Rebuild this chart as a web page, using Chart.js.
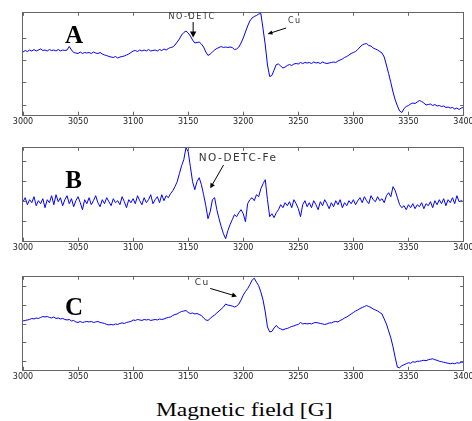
<!DOCTYPE html>
<html><head><meta charset="utf-8">
<script src="https://cdn.jsdelivr.net/npm/chart.js@4/dist/chart.umd.min.js"></script>
<style>
html,body{margin:0;padding:0;background:#fff;overflow:hidden;width:472px;height:421px;position:relative;}
canvas{position:absolute;left:0;}
#xtitle{position:absolute;left:0;width:489px;top:400px;line-height:19px;text-align:center;font-family:"Liberation Serif","Times New Roman",serif;font-size:19px;color:#000;white-space:nowrap;}
#xtitle span{display:inline-block;transform:scaleX(1.24);}
</style></head><body>
<canvas id="cA" width="480" height="127" style="top:0px"></canvas>
<canvas id="cB" width="480" height="118" style="top:135px"></canvas>
<canvas id="cC" width="480" height="118.5" style="top:263.5px"></canvas>
<div id="xtitle"><span>Magnetic field [G]</span></div>
<script>
// Magnetic field sampling (G): 3000 .. 3400 every 2 G
const FIELD_START = 3000, FIELD_STEP = 2;
const X_TICKS = [3000, 3050, 3100, 3150, 3200, 3250, 3300, 3350, 3400];

// Spectrum A (arbitrary units)
const A_SIGNAL = [
 53, 54.5, 53.5, 55, 54, 55.5, 54, 55, 56, 54.5,
 55, 54, 55.5, 54.5, 55, 54, 55.5, 54, 55, 54.5,
 55, 58.5, 55, 52.5, 52, 51.5, 53, 51.5, 52.5, 52,
 52.5, 51.5, 53, 52, 51.5, 52.5, 51, 50, 49.5, 48.5,
 48, 47.5, 48.5, 47, 48, 48.5, 49, 50, 51, 52.5,
 54, 54.5, 53.5, 55, 54, 55, 54, 55.5, 54, 54.5,
 55, 54, 55.5, 54.5, 56, 55, 56.5, 57.5, 58, 60,
 63, 66, 70, 72.5, 74, 72, 69, 65, 62, 62.5,
 63, 61, 58, 53, 49.5, 51, 53, 55, 56.5, 57.5,
 58.5, 57.5, 58, 57.5, 58, 57.5, 55.5, 56, 58, 62,
 67, 73, 79, 84, 87, 88.5, 89.5, 91, 91.5, 76,
 60, 40, 28.5, 29.5, 35, 40.5, 41, 39, 37, 38,
 39.5, 40.5, 39.5, 41, 41.5, 41, 42.5, 41.5, 42.5, 42,
 42.5, 41.5, 43, 42, 42.5, 41.5, 43, 42, 41.5, 42,
 42.5, 43, 42.5, 44, 45, 46, 47.5, 48.5, 50, 51.5,
 52.5, 53.5, 55.5, 58, 60, 61, 61.5, 59.5, 59, 57,
 56, 55, 53.5, 52, 48, 40, 31.5, 22.5, 13, 5,
 -1, -6, -7.5, -3.5, -1.5, -0.5, 1, 2, 1.5, 3,
 4.5, 3.5, 2, 0, 0.5, 1, -0.5, 0.5, -1, -0.5,
 -1.5, -1, -2.5, -2, -3, -2.5, -4, -3, -4.5, -3,
 -2.5
];

// Spectrum B (arbitrary units)
const B_SIGNAL = [
 20, 24, 17, 22, 19, 25, 16, 21, 18, 23,
 14, 22, 19, 26, 17, 27, 20, 24, 16, 22,
 26, 18, 23, 15, 21, 25, 19, 12, 22, 18,
 24, 17, 21, 26, 19, 15, 22, 18, 24, 20,
 16, 23, 19, 21, 17, 25, 20, 14, 22, 19,
 23, 18, 26, 21, 17, 24, 19, 22, 27, 18,
 22, 25, 19, 27, 21, 26, 24, 28, 31, 35,
 40, 48, 56, 62, 74, 70, 55, 40, 32, 40,
 44, 37, 27, 16, 3, 10, 22, 24, 12, 3,
 -5, -12, -17, -9, -3, 2, 7, 5, 9, 12,
 8, 0, 18, 22, 24, 21, 27, 25, 33, 38,
 42, 22, 5, 8, 4, 9, 12, 17, 14, 19,
 16, 20, 14, 22, 18, 13, 5, 17, 21, 15,
 19, 14, 21, 17, 12, 20, 16, 22, 18, 13,
 19, 15, 21, 17, 22, 14, 19, 16, 21, 18,
 22, 17, 21, 24, 19, 25, 21, 18, 26, 22,
 20, 25, 21, 23, 19, 26, 29, 25, 35, 31,
 24, 17, 14, 16, 12, 17, 14, 18, 13, 17,
 15, 19, 13, 18, 16, 20, 14, 21, 17, 22,
 18, 23, 16, 22, 19, 24, 18, 26, 20, 21,
 20
];

// Spectrum C (arbitrary units)
const C_SIGNAL = [
 41, 41.5, 42, 42.5, 43.5, 43, 44, 43.5, 44.5, 45.5,
 45, 45.5, 44.5, 44, 45, 43.5, 44, 43, 43.5, 42.5,
 42, 42.5, 41, 41.5, 40, 39.5, 40.5, 39.5, 40, 40.5,
 40, 40.5, 39.5, 40, 40.5, 39.5, 39, 38.5, 37.5, 37,
 37.5, 37, 38, 37.5, 38.5, 39, 38.5, 39.5, 40, 40.5,
 42, 41.5, 42.5, 42, 41.5, 42.5, 42, 42.5, 41.5, 42,
 42.5, 42, 43, 42.5, 43, 44, 44.5, 45, 46.5, 47.5,
 48, 49.5, 50.5, 51, 51.5, 49.5, 48.5, 49, 48, 48.5,
 47.5, 46.5, 44, 42, 41.5, 43.5, 45.5, 47, 49, 51,
 53, 55, 58, 57, 56.5, 56, 55, 56, 58, 62,
 67, 70.5, 73.5, 77.5, 82, 84, 80, 76.5, 70, 62,
 50, 35, 30, 30.5, 34, 36.5, 34, 33, 32, 33,
 33.5, 34.5, 35.5, 36, 37, 37.5, 39.5, 38, 38.5, 38,
 38.5, 38, 39, 39.5, 39, 38.5, 38, 37.5, 38, 39,
 39, 40, 40.5, 40, 41.5, 42.5, 44, 45, 46.5, 48,
 49.5, 51, 52, 53.5, 54.5, 55.5, 56.5, 55.5, 54.5, 53,
 52, 51, 49.5, 48, 43, 38, 31, 24, 15, 4,
 -5.5, -6, -4, -3, -2, -1, -1.5, 0, -0.5, 0.5,
 0.5, 1, 1.5, 1, 2, 2.5, 3, 2, 1.5, 0.5,
 0, -0.5, -1, -1.5, -2, -1.5, -2, -1, -1.5, -0.5,
 -0.5
];

// Panel decorations (in data coordinates)
const PANELS = {
  cA: {
    values: A_SIGNAL, yMin: -10, yMax: 92.5, yTicks: [0, 22.3, 44.6, 66.9], padTop: 12.5,
    letter: {t: 'A', g: 3046.4, v: 61.7},
    notes: [{t: 'NO-DETC', g: 3153.6, v: 88, size: 8}, {t: 'Cu', g: 3246.8, v: 84, size: 8}],
    arrows: [{from: [3154.5, 83], to: [3154.5, 67.5], hl: 6, hw: 3.2}, {from: [3239, 77], to: [3222, 71], hl: 5, hw: 2}]
  },
  cB: {
    values: B_SIGNAL, yMin: -19.3, yMax: 74.2, yTicks: [0, 20.2, 40.4, 60.6], padTop: 12.5,
    letter: {t: 'B', g: 3045.9, v: 33.4},
    notes: [{t: 'NO-DETC-Fe', g: 3195.3, v: 63.7, size: 10.5}],
    arrows: [{from: [3182.1, 56.7], to: [3170, 33.4], hl: 5, hw: 2.5}]
  },
  cC: {
    values: C_SIGNAL, yMin: -8.3, yMax: 85.7, yTicks: [0, 18.9, 37.8, 56.7, 75.6], padTop: 12.5,
    letter: {t: 'C', g: 3046.4, v: 47.4},
    notes: [{t: 'Cu', g: 3162.7, v: 79.7, size: 9}],
    arrows: [{from: [3170, 73.7], to: [3194.3, 65.7], hl: 5, hw: 2.5}]
  }
};

const TL = 3.3;
const framePlugin = {
  id: 'frame',
  afterDraw(chart) {
    const cfg = PANELS[chart.canvas.id];
    const {ctx, chartArea: {left, right, top, bottom}, scales: {x, y}} = chart;
    const h = v => Math.floor(v) + 0.5;
    ctx.save();
    ctx.strokeStyle = '#666';
    ctx.lineWidth = 1;
    ctx.beginPath();
    X_TICKS.forEach(v => {
      const px = h(x.getPixelForValue(v));
      ctx.moveTo(px, bottom); ctx.lineTo(px, bottom - TL);
      ctx.moveTo(px, top); ctx.lineTo(px, top + TL);
    });
    cfg.yTicks.forEach(v => {
      const py = h(y.getPixelForValue(v));
      ctx.moveTo(left, py); ctx.lineTo(left + TL, py);
      ctx.moveTo(right, py); ctx.lineTo(right - TL, py);
    });
    ctx.stroke();
    ctx.strokeRect(h(left) - 1, h(top), h(right) - h(left) + 1, h(bottom) - h(top));
    // panel letter
    ctx.fillStyle = '#000';
    ctx.font = 'bold 25px "Liberation Serif", "Times New Roman", serif';
    ctx.textAlign = 'center';
    ctx.textBaseline = 'alphabetic';
    ctx.fillText(cfg.letter.t, x.getPixelForValue(cfg.letter.g), y.getPixelForValue(cfg.letter.v));
    // notes
    ctx.fillStyle = '#333';
    ctx.textBaseline = 'middle';
    cfg.notes.forEach(n => {
      ctx.font = n.size + 'px "DejaVu Sans", sans-serif';
      ctx.letterSpacing = '1.5px';
      ctx.fillText(n.t, x.getPixelForValue(n.g), y.getPixelForValue(n.v));
    });
    ctx.letterSpacing = '0px';
    // arrows
    ctx.strokeStyle = '#000';
    ctx.fillStyle = '#000';
    cfg.arrows.forEach(a => {
      const x0 = x.getPixelForValue(a.from[0]), y0 = y.getPixelForValue(a.from[1]);
      const x1 = x.getPixelForValue(a.to[0]), y1 = y.getPixelForValue(a.to[1]);
      const ang = Math.atan2(y1 - y0, x1 - x0);
      ctx.beginPath();
      ctx.moveTo(x0, y0); ctx.lineTo(x1 - Math.cos(ang) * a.hl * 0.6, y1 - Math.sin(ang) * a.hl * 0.6);
      ctx.stroke();
      ctx.beginPath();
      ctx.moveTo(x1, y1);
      ctx.lineTo(x1 - Math.cos(ang) * a.hl + Math.sin(ang) * a.hw, y1 - Math.sin(ang) * a.hl - Math.cos(ang) * a.hw);
      ctx.lineTo(x1 - Math.cos(ang) * a.hl - Math.sin(ang) * a.hw, y1 - Math.sin(ang) * a.hl + Math.cos(ang) * a.hw);
      ctx.closePath();
      ctx.fill();
    });
    ctx.restore();
  }
};

function makePanel(id) {
  const cfg = PANELS[id];
  const points = cfg.values.map((v, i) => ({x: FIELD_START + FIELD_STEP * i, y: v}));
  return new Chart(document.getElementById(id), {
    type: 'line',
    data: {datasets: [{data: points, borderColor: '#0000ff', borderWidth: 1, pointRadius: 0, tension: 0, fill: false}]},
    options: {
      responsive: false, animation: false, devicePixelRatio: 1,
      layout: {padding: {top: cfg.padTop, right: 16.5, bottom: 0, left: 0}},
      plugins: {legend: {display: false}, tooltip: {enabled: false}},
      scales: {
        x: {
          type: 'linear', min: 3000, max: 3400,
          afterBuildTicks: s => { s.ticks = X_TICKS.map(v => ({value: v})); },
          afterFit: s => { s.height = 12; },
          grid: {display: false, drawTicks: false, tickLength: 0}, border: {display: false},
          ticks: {padding: 2, color: '#222', font: {family: '"DejaVu Sans", sans-serif', size: 8},
                  callback: v => String(v), maxRotation: 0, autoSkip: false}
        },
        y: {
          min: cfg.yMin, max: cfg.yMax,
          afterFit: s => { s.width = 23; },
          ticks: {display: false}, grid: {display: false, drawTicks: false}, border: {display: false}
        }
      }
    },
    plugins: [framePlugin]
  });
}
makePanel('cA');
makePanel('cB');
makePanel('cC');
</script>
</body></html>
